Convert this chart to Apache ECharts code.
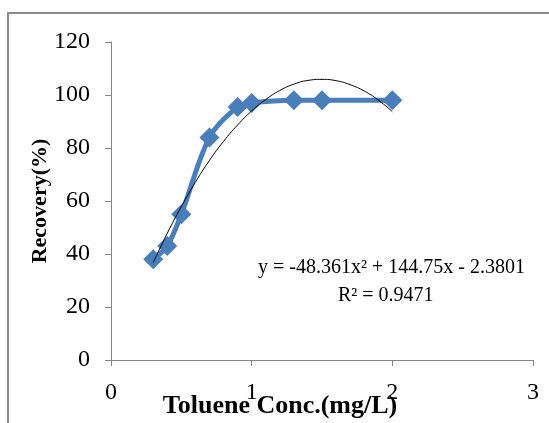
<!DOCTYPE html>
<html>
<head>
<meta charset="utf-8">
<script src="https://cdn.jsdelivr.net/npm/echarts@6/dist/echarts.min.js"></script>
<style>
  html, body { margin: 0; padding: 0; background: #fff; }
  #main { width: 549px; height: 423px; }
</style>
</head>
<body>
<div id="main"></div>
<script>
// measured recovery
var concX = [0.3, 0.4, 0.5, 0.7, 0.9, 1.0, 1.3, 1.5, 2.0];
var recovery = [38, 43, 55, 84, 95.5, 97, 98, 98, 98];
// poly trendline
var trendX = [0.3, 0.4, 0.5, 0.6, 0.7, 0.8, 0.9, 1.0, 1.1, 1.2, 1.3, 1.4, 1.5, 1.6, 1.7, 1.8, 1.9, 2.0];
var trendY = [36.7, 47.8, 57.9, 67.1, 75.3, 82.5, 88.7, 94.0, 98.3, 101.7, 104.1, 105.5, 105.9, 105.4, 103.9, 101.5, 98.1, 93.7];
var xTicks = [0, 3, 1];   // min, max, interval
var yTicks = [0, 120, 20];

var serif = '"Liberation Serif", "Times New Roman", serif';

function pairs(xs, ys) {
  return xs.map(function (x, i) { return [x, ys[i]]; });
}

var myChart = echarts.init(document.getElementById('main'));
myChart.setOption({
  animation: false,
  backgroundColor: '#fff',
  grid: { left: 111, top: 42, right: 16, bottom: 63, outerBoundsMode: 'none', containLabel: false },
  graphic: [
    {
      type: 'rect',
      shape: { x: 8, y: 13, width: 600, height: 500 },
      style: { fill: 'none', stroke: '#8a8a8a', lineWidth: 2 },
      silent: true
    },
    {
      type: 'text',
      left: 258, top: 258,
      style: { text: 'y = -48.361x² + 144.75x - 2.3801', font: '20px ' + serif, fill: '#000' }
    },
    {
      type: 'text',
      left: 338, top: 286,
      style: { text: 'R² = 0.9471', font: '20px ' + serif, fill: '#000' }
    }
  ],
  xAxis: {
    type: 'value',
    min: xTicks[0], max: xTicks[1], interval: xTicks[2],
    name: 'Toluene Conc.(mg/L)',
    nameLocation: 'middle',
    nameGap: 33,
    nameMoveOverlap: false,
    nameTextStyle: { fontFamily: serif, fontSize: 26, fontWeight: 'bold', color: '#000', padding: [0, 84, 0, 0] },
    axisLine: { lineStyle: { color: '#868686', width: 1 } },
    axisTick: { show: true, length: 6, lineStyle: { color: '#868686' } },
    axisLabel: { fontFamily: serif, fontSize: 24, color: '#000', margin: 21 },
    splitLine: { show: false }
  },
  yAxis: {
    type: 'value',
    min: yTicks[0], max: yTicks[1], interval: yTicks[2],
    name: 'Recovery(%)',
    nameLocation: 'middle',
    nameGap: 60,
    nameMoveOverlap: false,
    nameTextStyle: { fontFamily: serif, fontSize: 22, fontWeight: 'bold', color: '#000' },
    axisLine: { show: true, lineStyle: { color: '#868686', width: 1 } },
    axisTick: { show: true, length: 6, lineStyle: { color: '#868686' } },
    axisLabel: { fontFamily: serif, fontSize: 24, color: '#000', margin: 21 },
    splitLine: { show: false }
  },
  series: [
    {
      name: 'Recovery',
      type: 'line',
      data: pairs(concX, recovery),
      smooth: 0.3,
      symbol: 'diamond',
      symbolSize: 20,
      itemStyle: { color: '#4a7ebb' },
      lineStyle: { color: '#4a7ebb', width: 5 },
      z: 2
    },
    {
      name: 'Trend',
      type: 'line',
      data: pairs(trendX, trendY),
      smooth: true,
      showSymbol: false,
      lineStyle: { color: '#000', width: 1 },
      z: 3
    }
  ]
});
</script>
</body>
</html>
